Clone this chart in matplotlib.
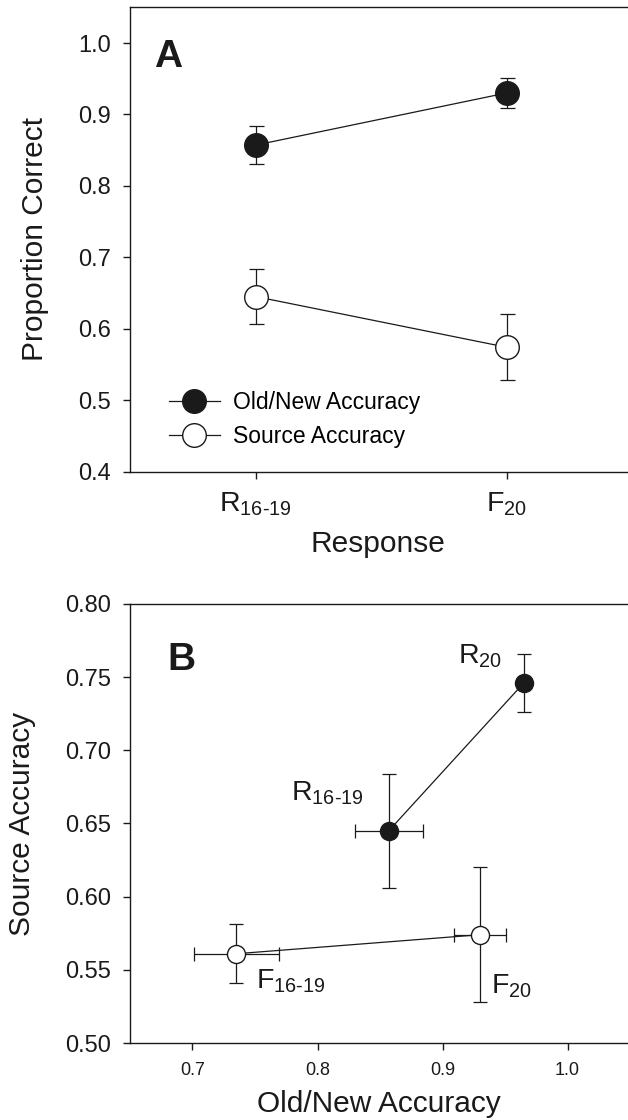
import matplotlib
matplotlib.use("Agg")
import matplotlib.pyplot as plt
from matplotlib.lines import Line2D

plt.rcParams['font.family'] = ['Liberation Sans', 'DejaVu Sans']
plt.rcParams['mathtext.fontset'] = 'custom'
plt.rcParams['mathtext.rm'] = 'Liberation Sans'
plt.rcParams['mathtext.it'] = 'Liberation Sans:italic'
plt.rcParams['mathtext.bf'] = 'Liberation Sans:bold'

# ---------------- data ----------------
conditions = ["R16-19", "R20", "F16-19", "F20"]
old_new_acc = [0.857, 0.965, 0.735, 0.930]
old_new_err = [0.027, 0.004, 0.034, 0.021]
source_acc = [0.645, 0.746, 0.561, 0.574]
source_err = [0.039, 0.020, 0.020, 0.046]

panel_a_responses = ["R16-19", "F20"]
cond_labels = {
    "R16-19": r"$\mathrm{R}_{\mathrm{16\text{-}19}}$",
    "R20": r"$\mathrm{R}_{\mathrm{20}}$",
    "F16-19": r"$\mathrm{F}_{\mathrm{16\text{-}19}}$",
    "F20": r"$\mathrm{F}_{\mathrm{20}}$",
}
# label anchor (data coords, left/baseline) for panel B
label_pos_b = {
    "R20": (0.912, 0.759),
    "R16-19": (0.779, 0.666),
    "F16-19": (0.751, 0.537),
    "F20": (0.939, 0.534),
}
a_yticks = [0.4, 0.5, 0.6, 0.7, 0.8, 0.9, 1.0]
b_yticks = [0.50, 0.55, 0.60, 0.65, 0.70, 0.75, 0.80]
b_xticks = [0.7, 0.8, 0.9, 1.0]

W, H = 628, 1120
fig = plt.figure(figsize=(W / 100, H / 100), dpi=100)

def fx(px):
    return px / W

def fy(py):
    return 1 - py / H

black = '#1a1a1a'
lw = 0.9

# ---------------- Panel A ----------------
axA = fig.add_axes([fx(130), fy(471.5), fx(502), 464.2 / H])
idx = [conditions.index(r) for r in panel_a_responses]
xa = [1, 2]
on_m = [old_new_acc[i] for i in idx]
on_e = [old_new_err[i] for i in idx]
so_m = [source_acc[i] for i in idx]
so_e = [source_err[i] for i in idx]

msA = 17
for m, e, fc in [(on_m, on_e, black), (so_m, so_e, 'white')]:
    axA.errorbar(xa, m, yerr=e, fmt='none', ecolor=black, elinewidth=lw,
                 capsize=5.4, capthick=lw, zorder=2)
    axA.plot(xa, m, '-', color=black, lw=lw, zorder=2)
    axA.plot(xa, m, 'o', ms=msA, mfc=fc, mec=black, mew=1.0, zorder=3)

axA.set_xlim(0.5, 2.5)
axA.set_ylim(0.4, 1.05)
axA.set_yticks(a_yticks)
axA.set_yticklabels([f"{v:.1f}" for v in a_yticks])
axA.set_xticks(xa)
axA.set_xticklabels([cond_labels[r] for r in panel_a_responses])
axA.tick_params(axis='y', direction='out', length=4.8, width=1, pad=9, labelsize=17, colors=black)
axA.tick_params(axis='x', direction='out', length=4.8, width=1, pad=9, labelsize=20.5, colors=black)
axA.spines['right'].set_visible(False)
for s in ['left', 'bottom', 'top']:
    axA.spines[s].set_linewidth(1.0)
    axA.spines[s].set_color(black)

handles = [
    Line2D([], [], color=black, lw=lw, marker='o', ms=msA, mfc=black, mec=black),
    Line2D([], [], color=black, lw=lw, marker='o', ms=msA, mfc='white', mec=black),
]
axA.legend(handles, ["Old/New Accuracy", "Source Accuracy"], loc='upper left',
           bbox_to_anchor=(0.078, 0.174), frameon=False, fontsize=16.5,
           handlelength=2.2, handletextpad=0.6, labelspacing=0.5, borderpad=0,
           borderaxespad=0)
axA.text(0.596, 0.966, "A", fontsize=28, fontweight='bold', color=black,
         ha='left', va='baseline')

fig.text(fx(35), fy(239.4), "Proportion Correct", rotation=90, ha='center',
         va='center', fontsize=21.5, color=black)
fig.text(fx(378), fy(552), "Response", ha='center', va='baseline',
         fontsize=21.5, color=black)

# ---------------- Panel B ----------------
axB = fig.add_axes([fx(130), fy(1043), fx(500), 439 / H])
msB = 13
for group, fc in [(["R16-19", "R20"], black), (["F16-19", "F20"], 'white')]:
    gi = [conditions.index(c) for c in group]
    x = [old_new_acc[i] for i in gi]
    y = [source_acc[i] for i in gi]
    xe = [old_new_err[i] for i in gi]
    ye = [source_err[i] for i in gi]
    axB.errorbar(x, y, xerr=xe, yerr=ye, fmt='none', ecolor=black,
                 elinewidth=lw, capsize=5, capthick=lw, zorder=2)
    axB.plot(x, y, '-', color=black, lw=lw, zorder=2)
    axB.plot(x, y, 'o', ms=msB, mfc=fc, mec=black, mew=1.0, zorder=3)

for c, (lx, ly) in label_pos_b.items():
    axB.text(lx, ly, cond_labels[c], fontsize=20.5, color=black,
             ha='left', va='baseline')

axB.set_xlim(0.65, 1.05)
axB.set_ylim(0.5, 0.8)
axB.set_yticks(b_yticks)
axB.set_yticklabels([f"{v:.2f}" for v in b_yticks])
axB.set_xticks(b_xticks)
axB.set_xticklabels([f"{v:.1f}" for v in b_xticks])
axB.tick_params(axis='y', direction='out', length=4.8, width=1, pad=9, labelsize=17, colors=black)
axB.tick_params(axis='x', direction='out', length=4.8, width=1, pad=9, labelsize=13, colors=black)
axB.spines['right'].set_visible(False)
for s in ['left', 'bottom', 'top']:
    axB.spines[s].set_linewidth(1.0)
    axB.spines[s].set_color(black)
axB.text(0.6796, 0.7549, "B", fontsize=28, fontweight='bold', color=black,
         ha='left', va='baseline')

fig.text(fx(22), fy(823.5), "Source Accuracy", rotation=90, ha='center',
         va='center', fontsize=21.5, color=black)
fig.text(fx(379), fy(1111.7), "Old/New Accuracy", ha='center', va='baseline',
         fontsize=21.5, color=black)

fig.savefig("out.png", dpi=100)
